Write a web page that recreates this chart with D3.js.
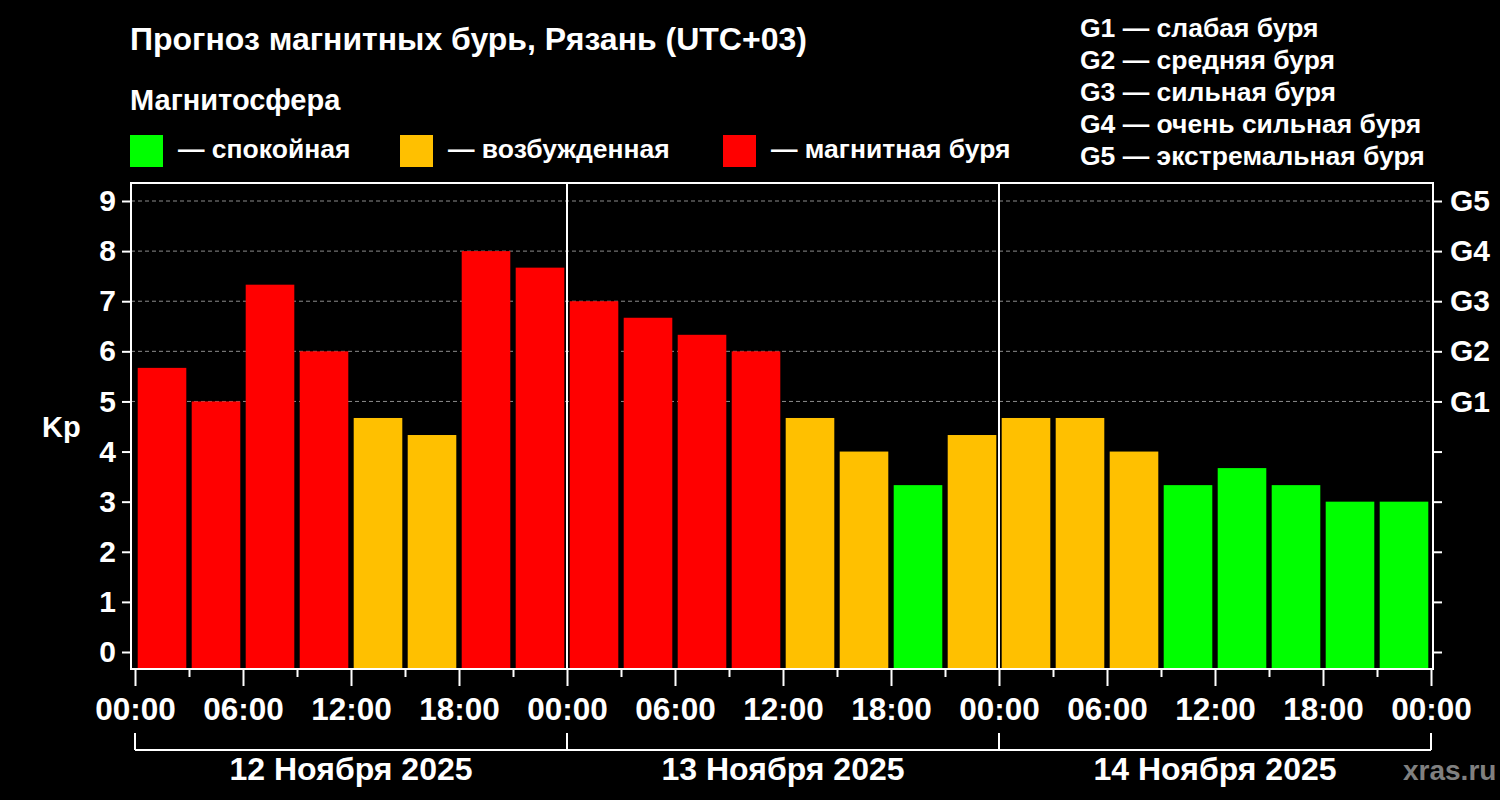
<!DOCTYPE html>
<html><head><meta charset="utf-8">
<script src="https://cdn.jsdelivr.net/npm/d3@7"></script>
<style>
html,body{margin:0;padding:0;background:#000;}
svg{display:block;}
text{font-family:"Liberation Sans",Arial,sans-serif;font-weight:bold;fill:#fff;}
</style></head>
<body>
<svg id="chart" width="1500" height="800"></svg>
<script>
// ---- data ----
const kpValues = [5.67, 5, 7.33, 6, 4.67, 4.33, 8, 7.67,
                  7, 6.67, 6.33, 6, 4.67, 4, 3.33, 4.33,
                  4.67, 4.67, 4, 3.33, 3.67, 3.33, 3, 3];
const dayLabels = ["12 Ноября 2025", "13 Ноября 2025", "14 Ноября 2025"];
const hourLabels = ["00:00", "06:00", "12:00", "18:00"];
const yTicks = [0,1,2,3,4,5,6,7,8,9];
const gLevels = [5,6,7,8,9];
const gLabels = ["G1","G2","G3","G4","G5"];
const gDescriptions = ["G1 — слабая буря","G2 — средняя буря","G3 — сильная буря","G4 — очень сильная буря","G5 — экстремальная буря"];
const stateNames = ["— спокойная","— возбужденная","— магнитная буря"];
const stateColors = ["#00ff00","#ffc000","#ff0000"];
const titleText = "Прогноз магнитных бурь, Рязань (UTC+03)";
const subtitleText = "Магнитосфера";
const yAxisLabel = "Kp";
const sourceText = "xras.ru";

// ---- layout ----
const svg = d3.select("#chart");
const W = 1500, H = 800;
svg.append("rect").attr("width",W).attr("height",H).attr("fill","#000");

const frame = {left:131, right:1433, top:183, bottom:669};
const x = d3.scaleLinear().domain([0,72]).range([135,1431]);
const y = d3.scaleLinear().domain([0,9]).range([652,201]);
const colorOf = v => v < 4 ? stateColors[0] : (v < 5 ? stateColors[1] : stateColors[2]);

// grid
svg.append("g").selectAll("line").data(gLevels).join("line")
  .attr("x1",frame.left).attr("x2",frame.right)
  .attr("y1",d=>y(d)).attr("y2",d=>y(d))
  .attr("stroke","#8c8c8c").attr("stroke-width",1).attr("stroke-dasharray","4,3");

// bars
const slot = 3;
svg.append("g").selectAll("rect").data(kpValues).join("rect")
  .attr("x",(d,i)=>x(i*slot) + (x(slot)-x(0))*0.05)
  .attr("width",(x(slot)-x(0))*0.9)
  .attr("y",d=>y(d))
  .attr("height",d=>frame.bottom - y(d))
  .attr("fill",d=>colorOf(d));

// day separators
svg.append("g").selectAll("line").data([24,48]).join("line")
  .attr("x1",d=>x(d)).attr("x2",d=>x(d))
  .attr("y1",frame.top).attr("y2",frame.bottom)
  .attr("stroke","#fff").attr("stroke-width",2);

// frame
svg.append("rect").attr("x",frame.left).attr("y",frame.top)
  .attr("width",frame.right-frame.left).attr("height",frame.bottom-frame.top)
  .attr("fill","none").attr("stroke","#fff").attr("stroke-width",2);

const styleText = sel => sel.attr("fill","#fff")
  .attr("font-family","Liberation Sans, Arial, sans-serif").attr("font-weight","bold");

// left axis
const leftAxis = d3.axisLeft(y).tickValues(yTicks).tickSize(9).tickPadding(6).tickFormat(d3.format("d"));
const gl = svg.append("g").attr("transform",`translate(${frame.left},0)`).call(leftAxis);
gl.select(".domain").remove();
gl.selectAll(".tick line").attr("stroke","#fff").attr("stroke-width",2);
gl.selectAll(".tick text").attr("font-size",30).call(styleText);

// right axis
const rightAxis = d3.axisRight(y).tickValues(yTicks).tickSize(9).tickPadding(8)
  .tickFormat(d => { const k = gLevels.indexOf(d); return k >= 0 ? gLabels[k] : ""; });
const gr = svg.append("g").attr("transform",`translate(${frame.right},0)`).call(rightAxis);
gr.select(".domain").remove();
gr.selectAll(".tick line").attr("stroke","#fff").attr("stroke-width",2);
gr.selectAll(".tick text").attr("font-size",30).call(styleText);

// bottom axis: major ticks every 6h with labels, minor every 3h
const majorTicks = d3.range(0,73,6);
const minorTicks = d3.range(3,72,6);
const bottomAxis = d3.axisBottom(x).tickValues(majorTicks).tickSize(17).tickPadding(12)
  .tickFormat(d => hourLabels[(d/6)%4]);
const gb = svg.append("g").attr("transform",`translate(0,${frame.bottom})`).call(bottomAxis);
gb.select(".domain").remove();
gb.selectAll(".tick line").attr("stroke","#fff").attr("stroke-width",2);
gb.selectAll(".tick text").attr("font-size",31.5).call(styleText);
const minorAxis = d3.axisBottom(x).tickValues(minorTicks).tickSize(8).tickFormat("");
const gm = svg.append("g").attr("transform",`translate(0,${frame.bottom})`).call(minorAxis);
gm.select(".domain").remove();
gm.selectAll(".tick line").attr("stroke","#fff").attr("stroke-width",2);

// day bracket
const bracketY = 750;
svg.append("line").attr("x1",x(0)).attr("x2",x(72)).attr("y1",bracketY).attr("y2",bracketY)
  .attr("stroke","#fff").attr("stroke-width",2);
svg.append("g").selectAll("line").data([0,24,48,72]).join("line")
  .attr("x1",d=>x(d)).attr("x2",d=>x(d)).attr("y1",733).attr("y2",bracketY)
  .attr("stroke","#fff").attr("stroke-width",2);
svg.append("g").selectAll("text").data(dayLabels).join("text")
  .attr("x",(d,i)=>x(i*24+12)).attr("y",780).attr("text-anchor","middle")
  .attr("font-size",32).text(d=>d);

// y label
svg.append("text").attr("x",42).attr("y",437).attr("font-size",29).text(yAxisLabel);

// title & subtitle
svg.append("text").attr("x",130).attr("y",50).attr("font-size",32).text(titleText);
svg.append("text").attr("x",130).attr("y",110).attr("font-size",29).text(subtitleText);

// state legend
const legX = [130, 400, 723];
const lg = svg.append("g").selectAll("g").data(stateNames).join("g")
  .attr("transform",(d,i)=>`translate(${legX[i]},135)`);
lg.append("rect").attr("width",33).attr("height",32).attr("fill",(d,i)=>stateColors[i]);
lg.append("text").attr("x",48).attr("y",23).attr("font-size",26.5).text(d=>d);

// G legend
svg.append("g").selectAll("text").data(gDescriptions).join("text")
  .attr("x",1080).attr("y",(d,i)=>37+i*32).attr("font-size",26.5).text(d=>d);

// source
svg.append("text").attr("x",1403).attr("y",780).attr("font-size",28)
  .style("fill","#808080").text(sourceText);
</script>
</body></html>
